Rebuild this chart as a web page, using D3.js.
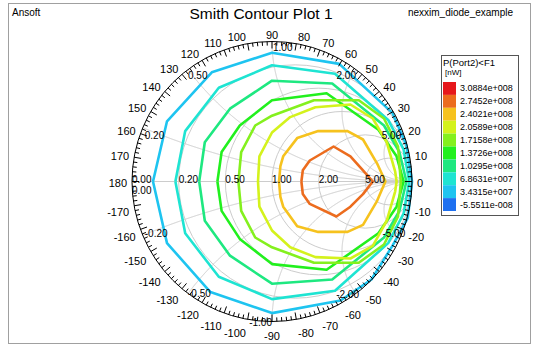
<!DOCTYPE html>
<html><head><meta charset="utf-8">
<script src="https://cdn.jsdelivr.net/npm/d3@7"></script>
<style>body{margin:0;background:#fff;}svg{display:block;font-family:Arial,"Liberation Sans",sans-serif;}</style>
</head><body><svg id="c" width="543" height="355"></svg>
<script>
// ---------- DATA ----------
const legendLevels = [3.0884e8, 2.7452e8, 2.4021e8, 2.0589e8, 1.7158e8, 1.3726e8, 1.0295e8, 6.8631e7, 3.4315e7, -5.5511e-8];
const legendLabels = ["3.0884e+008","2.7452e+008","2.4021e+008","2.0589e+008","1.7158e+008","1.3726e+008","1.0295e+008","6.8631e+007","3.4315e+007","-5.5511e-008"];
const levelColors = ["#e6181c","#ec6c1e","#f6c21e","#d4f21c","#84f01e","#22f01e","#1ee880","#1ee4d2","#1ec4f0","#1e70f0"];
const resistanceValues = [0, 0.2, 0.5, 1, 2, 5];
const resistanceLabels = ["0.00","0.20","0.50","1.00","2.00","5.00"];
const reactanceValues = [0, 0.2, 0.5, 1, 2, 5, -0.2, -0.5, -1, -2, -5];
const reactanceLabels = ["0.00","0.20","0.50","1.00","2.00","5.00","-0.20","-0.50","-1.00","-2.00","-5.00"];
const angleTicks = d3.range(-170, 181, 10);
// contour polylines, reflection-coefficient plane [re, im]
const contour_3_4315e7 = [[-0.85,0],[-0.75,0.43],[-0.43,0.78],[0,0.92],[0.48,0.84],[0.86,0.49],[0.96,0.26],[1.0,0],[0.97,-0.26],[0.86,-0.46],[0.71,-0.70],[0.49,-0.85],[0,-0.94],[-0.44,-0.79],[-0.75,-0.44],[-0.85,0]];
const contour_6_8631e7 = [[-0.69,0],[-0.62,0.36],[-0.38,0.67],[0,0.83],[0.45,0.77],[0.83,0.44],[0.94,0.23],[0.98,0],[0.94,-0.23],[0.83,-0.44],[0.45,-0.78],[0,-0.84],[-0.38,-0.68],[-0.62,-0.37],[-0.69,0]];
const contour_1_0295e8 = [[-0.52,0],[-0.48,0.28],[-0.30,0.52],[0,0.72],[0.43,0.70],[0.80,0.40],[0.91,0.21],[0.96,0],[0.91,-0.21],[0.80,-0.40],[0.43,-0.70],[0,-0.73],[-0.30,-0.53],[-0.48,-0.28],[-0.52,0]];
const contour_1_3726e8 = [[-0.39,0],[-0.36,0.21],[-0.23,0.40],[0,0.58],[0.39,0.63],[0.76,0.37],[0.89,0.18],[0.94,0],[0.89,-0.18],[0.76,-0.37],[0.39,-0.63],[0,-0.59],[-0.23,-0.41],[-0.36,-0.21],[-0.39,0]];
const contour_1_7158e8 = [[-0.24,0],[-0.22,0.21],[-0.12,0.40],[0,0.47],[0.30,0.58],[0.62,0.58],[0.80,0.45],[0.90,0.25],[0.92,0],[0.90,-0.25],[0.80,-0.45],[0.62,-0.58],[0.30,-0.58],[0,-0.47],[-0.12,-0.40],[-0.22,-0.21],[-0.24,0]];
const contour_2_0589e8 = [[-0.10,0],[-0.09,0.18],[0,0.35],[0.13,0.46],[0.31,0.53],[0.56,0.55],[0.72,0.45],[0.82,0.28],[0.88,0.07],[0.89,0],[0.88,-0.07],[0.82,-0.28],[0.72,-0.46],[0.56,-0.55],[0.31,-0.54],[0.13,-0.47],[0,-0.35],[-0.09,-0.18],[-0.10,0]];
const contour_2_4021e8 = [[0.05,0],[0.06,0.11],[0.08,0.18],[0.18,0.31],[0.33,0.36],[0.54,0.36],[0.65,0.30],[0.75,0.13],[0.81,0],[0.75,-0.14],[0.65,-0.31],[0.54,-0.36],[0.33,-0.36],[0.18,-0.32],[0.08,-0.18],[0.06,-0.11],[0.05,0]];
const contour_2_7452e8 = [[0.21,0],[0.22,0.08],[0.27,0.15],[0.44,0.25],[0.56,0.18],[0.65,0.08],[0.72,0],[0.65,-0.09],[0.56,-0.18],[0.46,-0.25],[0.27,-0.16],[0.22,-0.09],[0.21,0]];
const contours = [
  {level: 3.4315e7, pts: contour_3_4315e7},
  {level: 6.8631e7, pts: contour_6_8631e7},
  {level: 1.0295e8, pts: contour_1_0295e8},
  {level: 1.3726e8, pts: contour_1_3726e8},
  {level: 1.7158e8, pts: contour_1_7158e8},
  {level: 2.0589e8, pts: contour_2_0589e8},
  {level: 2.4021e8, pts: contour_2_4021e8},
  {level: 2.7452e8, pts: contour_2_7452e8}
];

// ---------- LAYOUT ----------
const svg = d3.select("#c");
const cx = 272, cy = 181.5, R = 140;
const x = d3.scaleLinear().domain([-1, 1]).range([cx - R, cx + R]);
const y = d3.scaleLinear().domain([-1, 1]).range([cy + R, cy - R]);
const color = d3.scaleOrdinal().domain(legendLevels).range(levelColors);
const gridColor = "#cccccc";

// frame
svg.append("rect").attr("x", 8.5).attr("y", 3.5).attr("width", 522).attr("height", 340)
  .attr("fill", "none").attr("stroke", "#a0a0a0");

// header text
svg.append("text").attr("x", 12).attr("y", 16).attr("font-size", 10).text("Ansoft");
svg.append("text").attr("x", 261).attr("y", 19).attr("text-anchor", "middle").attr("font-size", 15.5).text("Smith Contour Plot 1");
svg.append("text").attr("x", 513).attr("y", 16).attr("text-anchor", "end").attr("font-size", 10).text("nexxim_diode_example");

const line = d3.line().x(d => x(d[0])).y(d => y(d[1]));
const gamma = (r, xx) => { // z = r + j xx
  const dr = (r + 1) * (r + 1) + xx * xx;
  return [(r * r + xx * xx - 1) / dr, (2 * xx) / dr];
};
const grid = svg.append("g").attr("fill", "none").attr("stroke", gridColor).attr("stroke-width", 1);
grid.append("path").attr("d", line([[-1, 0], [1, 0]]));
resistanceValues.filter(r => r > 0).forEach(r => {
  grid.append("circle").attr("cx", x(r / (1 + r))).attr("cy", y(0)).attr("r", x(1 / (1 + r)) - x(0));
});
const tSamples = d3.range(0, 1, 0.002);
reactanceValues.filter(v => v !== 0).forEach(v => {
  grid.append("path").attr("d", line(tSamples.map(t => gamma(t / (1 - t), v)).concat([[1, 0]])));
});

// contours
const cg = svg.append("g").attr("fill", "none").attr("stroke-width", 2.6).attr("stroke-linejoin", "round");
contours.forEach(c => {
  cg.append("path").attr("d", line(c.pts)).attr("stroke", color(c.level));
});

// outer circle and ticks
svg.append("circle").attr("cx", cx).attr("cy", cy).attr("r", R).attr("fill", "none").attr("stroke", "#000").attr("stroke-width", 1);
const tickG = svg.append("g").attr("stroke", "#000").attr("stroke-width", 1);
d3.range(-178, 181, 2).forEach(a => {
  const rad = a * Math.PI / 180, len = (a % 10 === 0) ? 7 : 4;
  const c = Math.cos(rad), s = Math.sin(rad);
  tickG.append("line")
    .attr("x1", x(c)).attr("y1", y(s))
    .attr("x2", x(c * (1 - len / R))).attr("y2", y(s * (1 - len / R)));
});
// angle labels
const angG = svg.append("g").attr("font-size", 11).attr("fill", "#000");
angleTicks.forEach(a => {
  const rad = a * Math.PI / 180, c = Math.cos(rad), s = Math.sin(rad);
  const px = x(c), py = y(s);
  let anchor = "middle", dx = 0;
  if (c > 0.1) { anchor = "start"; dx = 1 + 4 * c; }
  else if (c < -0.1) { anchor = "end"; dx = -(1 + 4 * -c); }
  let dy;
  if (a === 0 || a === 180) dy = 1.5;
  else dy = s > 0 ? -7 * s : 4 + 10 * (-s);
  angG.append("text").attr("x", px + dx).attr("y", py + dy)
    .attr("text-anchor", anchor).attr("dominant-baseline", "central").text(String(a));
});

// resistance labels on axis
const labG = svg.append("g").attr("font-size", 10).attr("fill", "#000");
resistanceValues.forEach((r, i) => {
  labG.append("text").attr("x", x((r - 1) / (r + 1))).attr("y", y(0) - 2)
    .attr("dominant-baseline", "central").text(resistanceLabels[i]);
});
const reactStyle = {
  "0": ["start", 0, 9], "0.2": ["start", 2, 8], "0.5": ["start", 0, 6], "1": ["start", 1, 6],
  "2": ["end", 0, 6], "5": ["end", 0, 8], "-0.2": ["start", 2, -2], "-0.5": ["start", 0, 0],
  "-1": ["end", 0, 1], "-2": ["end", 3, 1], "-5": ["end", 4, -2]
};
reactanceValues.forEach((v, i) => {
  const g = gamma(0, v), st = reactStyle[String(v)];
  labG.append("text").attr("x", x(g[0]) + st[1]).attr("y", y(g[1]) + st[2])
    .attr("text-anchor", st[0]).attr("dominant-baseline", "central").text(reactanceLabels[i]);
});

// legend
const lg = svg.append("g");
lg.append("rect").attr("x", 441.5).attr("y", 55.5).attr("width", 77).attr("height", 160)
  .attr("fill", "#fff").attr("stroke", "#555");
lg.append("text").attr("x", 443).attr("y", 66).attr("font-size", 9.5).text("P(Port2)<F1");
lg.append("text").attr("x", 445).attr("y", 75).attr("font-size", 8).text("[nW]");
const rowY = d3.scaleBand().domain(legendLevels).range([82, 211]);
legendLevels.forEach((lv, i) => {
  lg.append("rect").attr("x", 443).attr("y", rowY(lv)).attr("width", 13).attr("height", rowY.bandwidth())
    .attr("fill", color(lv));
  lg.append("text").attr("x", 460).attr("y", rowY(lv) + rowY.bandwidth() / 2)
    .attr("dominant-baseline", "central").attr("font-size", 9).text(legendLabels[i]);
});
</script></body></html>
